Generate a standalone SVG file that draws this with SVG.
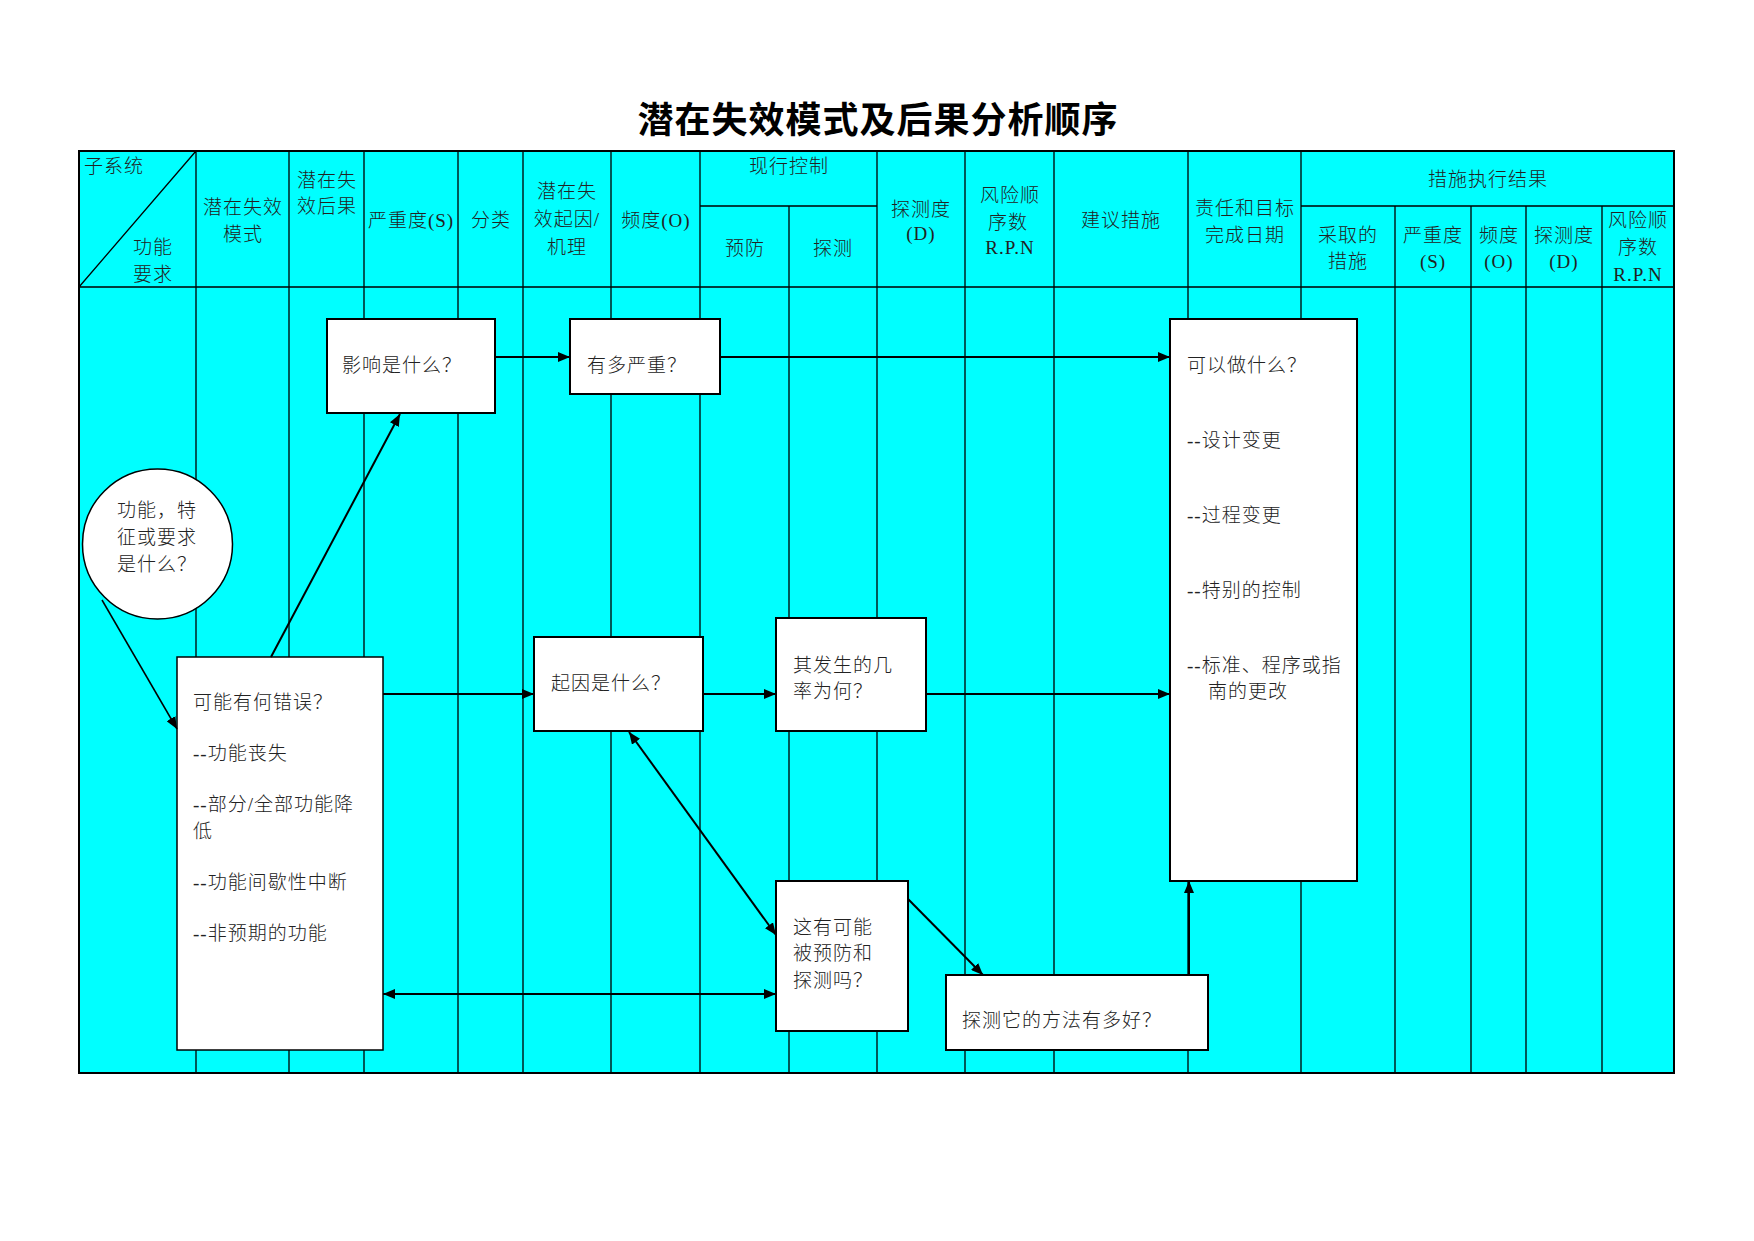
<svg xmlns="http://www.w3.org/2000/svg" width="1754" height="1241" viewBox="0 0 1754 1241">
<defs>
<style>
.tbl{fill:#00FFFF;stroke:#000;stroke-width:2}
.g{stroke:#000;stroke-width:1.3;fill:none}
.box{fill:#fff;stroke:#000;stroke-width:2}
.thin{fill:#fff;stroke:#000;stroke-width:1.5}
.c{stroke:#000;stroke-width:2;fill:none}
.hc{font-family:"Liberation Serif","Noto Sans CJK SC",serif;font-size:19px;letter-spacing:1px;fill:#222;text-anchor:middle;font-weight:300}
.tx{font-family:"Liberation Serif","Noto Sans CJK SC",serif;font-size:19px;letter-spacing:1px;fill:#222;font-weight:300}
.title{font-family:"Noto Sans CJK SC",sans-serif;font-size:36px;font-weight:bold;letter-spacing:1px;fill:#000;text-anchor:middle}
</style>
<marker id="ah" viewBox="0 0 12 10" refX="12" refY="5" markerWidth="12" markerHeight="10" markerUnits="userSpaceOnUse" orient="auto-start-reverse">
<path d="M0,0 L12,5 L0,10 z" fill="#000"/>
</marker>
</defs>
<rect width="1754" height="1241" fill="#fff"/>
<text class="title" x="878" y="133">潜在失效模式及后果分析顺序</text>

<g id="table">
<rect class="tbl" x="79" y="151" width="1595" height="922"/>
<path class="g" d="M79,287H1674 M700,206H877 M1301,206H1674
M196,151V1073 M289,151V1073 M364,151V1073 M458,151V1073 M523,151V1073 M611,151V1073 M700,151V1073 M877,151V1073 M965,151V1073 M1054,151V1073 M1188,151V1073 M1301,151V1073
M789,206V1073 M1395,206V1073 M1471,206V1073 M1526,206V1073 M1602,206V1073
M79,287L196,151"/>
<text class="tx" x="84" y="173">子系统</text>
<text class="tx" x="133" y="254">功能</text>
<text class="tx" x="133" y="281">要求</text>
<text class="hc" x="243" y="214">潜在失效</text>
<text class="hc" x="243" y="241">模式</text>
<text class="hc" x="327" y="187">潜在失</text>
<text class="hc" x="327" y="213">效后果</text>
<text class="hc" x="411" y="227">严重度(S)</text>
<text class="hc" x="491" y="227">分类</text>
<text class="hc" x="567" y="198">潜在失</text>
<text class="hc" x="567" y="226">效起因/</text>
<text class="hc" x="567" y="254">机理</text>
<text class="hc" x="656" y="227">频度(O)</text>
<text class="hc" x="789" y="173">现行控制</text>
<text class="hc" x="745" y="255">预防</text>
<text class="hc" x="833" y="255">探测</text>
<text class="hc" x="921" y="216">探测度</text>
<text class="hc" x="921" y="240">(D)</text>
<text class="hc" x="1010" y="202">风险顺</text>
<text class="hc" x="1008" y="229">序数</text>
<text class="hc" x="1010" y="254">R.P.N</text>
<text class="hc" x="1121" y="227">建议措施</text>
<text class="hc" x="1245" y="215">责任和目标</text>
<text class="hc" x="1245" y="242">完成日期</text>
<text class="hc" x="1488" y="186">措施执行结果</text>
<text class="hc" x="1348" y="242">采取的</text>
<text class="hc" x="1348" y="268">措施</text>
<text class="hc" x="1433" y="242">严重度</text>
<text class="hc" x="1433" y="268">(S)</text>
<text class="hc" x="1499" y="242">频度</text>
<text class="hc" x="1499" y="268">(O)</text>
<text class="hc" x="1564" y="242">探测度</text>
<text class="hc" x="1564" y="268">(D)</text>
<text class="hc" x="1638" y="227">风险顺</text>
<text class="hc" x="1638" y="254">序数</text>
<text class="hc" x="1638" y="281">R.P.N</text>
</g>

<g id="n_func">
<circle class="thin" cx="157.5" cy="544" r="75"/>
<text class="tx" x="117" y="517">功能，特</text>
<text class="tx" x="117" y="544">征或要求</text>
<text class="tx" x="117" y="571">是什么？</text>
</g>
<g id="n_wrong">
<rect class="thin" x="177" y="657" width="206" height="393"/>
<text class="tx" x="193" y="709">可能有何错误？</text>
<text class="tx" x="193" y="760">--功能丧失</text>
<text class="tx" x="193" y="811">--部分/全部功能降</text>
<text class="tx" x="193" y="838">低</text>
<text class="tx" x="193" y="889">--功能间歇性中断</text>
<text class="tx" x="193" y="940">--非预期的功能</text>
</g>
<g id="n_effect">
<rect class="box" x="327" y="319" width="168" height="94"/>
<text class="tx" x="342" y="372">影响是什么？</text>
</g>
<g id="n_severity">
<rect class="box" x="570" y="319" width="150" height="75"/>
<text class="tx" x="587" y="372">有多严重？</text>
</g>
<g id="n_cause">
<rect class="box" x="534" y="637" width="169" height="94"/>
<text class="tx" x="551" y="690">起因是什么？</text>
</g>
<g id="n_occur">
<rect class="box" x="776" y="618" width="150" height="113"/>
<text class="tx" x="793" y="672">其发生的几</text>
<text class="tx" x="793" y="698">率为何？</text>
</g>
<g id="n_prevent">
<rect class="box" x="776" y="881" width="132" height="150"/>
<text class="tx" x="793" y="934">这有可能</text>
<text class="tx" x="793" y="960">被预防和</text>
<text class="tx" x="793" y="987">探测吗？</text>
</g>
<g id="n_detect">
<rect class="box" x="946" y="975" width="262" height="75"/>
<text class="tx" x="962" y="1027">探测它的方法有多好？</text>
</g>
<g id="n_action">
<rect class="box" x="1170" y="319" width="187" height="562"/>
<text class="tx" x="1187" y="372">可以做什么？</text>
<text class="tx" x="1187" y="447">--设计变更</text>
<text class="tx" x="1187" y="522">--过程变更</text>
<text class="tx" x="1187" y="597">--特别的控制</text>
<text class="tx" x="1187" y="672">--标准、程序或指</text>
<text class="tx" x="1208" y="698">南的更改</text>
</g>

<g id="connectors">
<line class="c" style="stroke-width:1.5" x1="102" y1="600" x2="177" y2="729" marker-end="url(#ah)"/>
<line class="c" x1="271" y1="657" x2="400" y2="414" marker-end="url(#ah)"/>
<line class="c" x1="495" y1="357" x2="570" y2="357" marker-end="url(#ah)"/>
<line class="c" x1="720" y1="357" x2="1170" y2="357" marker-end="url(#ah)"/>
<line class="c" x1="383" y1="694" x2="534" y2="694" marker-end="url(#ah)"/>
<line class="c" x1="703" y1="694" x2="776" y2="694" marker-end="url(#ah)"/>
<line class="c" x1="926" y1="694" x2="1170" y2="694" marker-end="url(#ah)"/>
<line class="c" x1="629" y1="732" x2="776" y2="935" marker-start="url(#ah)" marker-end="url(#ah)"/>
<line class="c" x1="383" y1="994" x2="776" y2="994" marker-start="url(#ah)" marker-end="url(#ah)"/>
<line class="c" x1="908" y1="899" x2="983" y2="975" marker-end="url(#ah)"/>
<line class="c" x1="1189" y1="975" x2="1189" y2="881" marker-end="url(#ah)"/>
</g>
</svg>
